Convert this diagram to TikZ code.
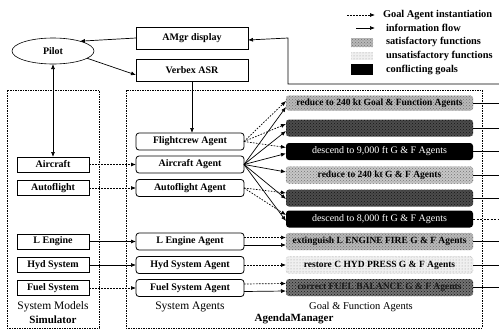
\documentclass[tikz,border=0pt]{standalone}
\usepackage{fontspec}
\setmainfont{Liberation Serif}
\usetikzlibrary{arrows.meta,patterns,shapes.geometric,calc}
\begin{document}
\begin{tikzpicture}[x=1pt,y=-1pt,
  every node/.style={inner sep=0pt, outer sep=0pt},
  boxfont/.style={font=\fontsize{10}{11}\selectfont\bfseries},
  flow/.style={-{Latex[length=5pt,width=4pt]}, line width=0.7pt},
  inst/.style={-{Latex[length=5pt,width=4pt]}, line width=0.7pt, dash pattern=on 1.6pt off 1.4pt},
  region/.style={line width=0.6pt, dash pattern=on 2pt off 1.2pt on 0.6pt off 1.2pt},
  plainbox/.style={draw, line width=0.8pt, boxfont},
  simbox/.style={plainbox, minimum width=72pt, minimum height=15pt},
  agentbox/.style={plainbox, rounded corners=3pt, minimum width=108pt, minimum height=17pt},
  goalbox/.style={rounded corners=3pt, minimum width=187pt, minimum height=17pt,
    font=\fontsize{9.5}{11}\selectfont\bfseries},
  satis/.style={goalbox, fill=black!28, draw=black!50, densely dotted,
    postaction={pattern=crosshatch dots, pattern color=black!55}},
  unsat/.style={goalbox, fill=black!6, draw=black!40, densely dotted,
    postaction={pattern=dots, pattern color=black!40}},
  darkg/.style={goalbox, fill=black!70,
    postaction={pattern=crosshatch dots, pattern color=black!92}},
  confl/.style={goalbox, fill=black, text=white, font=\fontsize{10}{11}\selectfont},
  legtext/.style={anchor=west, font=\fontsize{10.4}{12}\selectfont\bfseries},
  caption/.style={font=\fontsize{11.5}{13}\selectfont}
]
\fill[white] (0,0) rectangle (499,335);
\useasboundingbox (0,0) rectangle (499,335);

% ---- legend ----
\node[legtext] (lg1) at (383,15) {Goal Agent instantiation};
\node[legtext] (lg2) at (386,28) {information flow};
\node[legtext] (lg3) at (386,42) {satisfactory functions};
\node[legtext] (lg4) at (386,56) {unsatisfactory functions};
\node[legtext] (lg5) at (386,70) {conflicting goals};
\coordinate (la1) at (347,15);
\coordinate (la2) at (356,28);
\draw[inst] (la1) -- ([xshift=-8pt]lg1.west);
\draw[flow] (la2) -- ([xshift=-11pt]lg2.west);
\node[fill=black!28, minimum width=22pt, minimum height=9pt,
  postaction={pattern=crosshatch dots, pattern color=black!55}] (sw1) at (362,42.5) {};
\node[fill=black!6, minimum width=22pt, minimum height=8pt,
  postaction={pattern=dots, pattern color=black!40}] (sw2) at (362,56) {};
\node[fill=black, minimum width=22pt, minimum height=11pt] (sw3) at (362,69.5) {};

% ---- pilot and interface ----
\node[ellipse, draw, line width=0.6pt, minimum width=82pt, minimum height=26pt, boxfont] (pilot) at (53,51) {Pilot};
\node[plainbox, minimum width=112pt, minimum height=22pt] (amgr) at (192,38) {AMgr display};
\node[plainbox, minimum width=112pt, minimum height=22pt] (verbex) at (192,70) {Verbex ASR};

% ---- regions ----
\draw[region] (7,90) rectangle (99,328);
\draw[region] (126,90) rectangle (482,328);

% ---- system models ----
\node[simbox] (sac) at (53,164.5) {Aircraft};
\node[simbox] (saf) at (53,188) {Autoflight};
\node[simbox] (sle) at (53,241.5) {L Engine};
\node[simbox] (shy) at (53,265) {Hyd System};
\node[simbox] (sfu) at (53,288) {Fuel System};
\node[caption] (capsm) at (53,307) {System Models};
\node[caption, font=\fontsize{11}{13}\selectfont\bfseries] (capsim) at (53,320) {Simulator};

% ---- system agents ----
\node[agentbox] (fc) at (190,141.5) {Flightcrew Agent};
\node[agentbox] (ac) at (190,164.5) {Aircraft Agent};
\node[agentbox] (af) at (190,188) {Autoflight Agent};
\node[agentbox] (le) at (190,241.5) {L Engine Agent};
\node[agentbox] (hy) at (190,265) {Hyd System Agent};
\node[agentbox] (fu) at (190,288) {Fuel System Agent};
\node[caption] (capsa) at (190,307) {System Agents};

% ---- goal & function agents ----
\node[satis, minimum height=15pt] (g1) at (379.5,103) {reduce to 240 kt Goal \& Function Agents};
\node[darkg] (g2) at (379.5,128) {};
\node[confl] (g3) at (379.5,151.5) {descend to 9,000 ft G \& F Agents};
\node[satis, fill=black!22] (g4) at (379.5,175) {reduce to 240 kt G \& F Agents};
\node[darkg] (g5) at (379.5,198) {};
\node[confl] (g6) at (379.5,219) {descend to 8,000 ft G \& F Agents};
\node[satis] (g7) at (379.5,241.5) {extinguish L ENGINE FIRE G \& F Agents};
\node[unsat] (g8) at (379.5,265) {restore C HYD PRESS G \& F Agents};
\node[darkg, fill=black!55, text=black!90] (g9) at (379.5,287.5) {correct FUEL BALANCE G \& F Agents};
\node[caption, font=\fontsize{10.5}{12}\selectfont] (capgf) at (361,307) {Goal \& Function Agents};
\node[caption, font=\fontsize{11}{13}\selectfont\bfseries] (capam) at (294,319) {AgendaManager};

% ---- pilot interface connectors ----
\draw[flow] (amgr.west) -- (pilot.20);
\draw[flow] (pilot.-12) -- ($(verbex.west)+(0,5)$);
\draw[flow] (verbex.south) -- (verbex.south |- fc.north);
\draw[flow, {Latex[length=5pt,width=4pt]}-{Latex[length=5pt,width=4pt]}] (pilot.south) -- (sac.north);

% information bus back to the display
\coordinate (rb) at (499,84);
\coordinate (bus) at (288,84);
\draw[flow] (rb) -- (bus) -- (bus |- amgr.east) -- ($(amgr.east)+(0,2)$);

% ---- simulator to agents ----
\draw[inst] (sac.east) -- (ac.west);
\draw[inst] (saf.east) -- (af.west);
\draw[flow] (sle.east) -- (le.west);
\draw[flow] (shy.east) -- (hy.west);
\draw[inst] (sfu.east) -- (fu.west);

% ---- agents to goal agents ----
\draw[inst] (fc.east) -- ($(g1.west)+(0,-2)$);
\draw[inst] (fc.east) -- ($(g2.west)+(0,-4)$);
\draw[inst] (fc.east) -- ($(g3.west)+(0,-4)$);
\draw[flow] (ac.east) -- ($(g1.west)+(0,4)$);
\draw[flow] (ac.east) -- ($(g2.west)+(0,3)$);
\draw[flow] (ac.east) -- ($(g3.west)+(0,2)$);
\draw[flow] (ac.east) -- ($(g4.west)+(0,-3)$);
\draw[flow] (ac.east) -- ($(g5.west)+(0,1)$);
\draw[flow] (ac.east) -- ($(g6.west)+(0,2)$);
\draw[inst] (af.east) -- ($(g5.west)+(0,-5)$);
\draw[inst] (af.east) -- ($(g6.west)+(0,-4)$);
\draw[inst] ($(le.east)+(0,-4)$) -- ($(g7.west)+(0,-4)$);
\draw[flow] ($(le.east)+(0,3.5)$) -- ($(g7.west)+(0,3.5)$);
\draw[inst] (hy.east) -- (g8.west);
\draw[inst] ($(fu.east)+(0,-4)$) -- ($(g9.west)+(0,-4)$);
\draw[flow] ($(fu.east)+(0,3.5)$) -- ($(g9.west)+(0,3.5)$);

% ---- goal agents out to the bus ----
\foreach \g in {g1,g2,g3,g4,g5,g7,g8,g9}
  \draw[line width=0.7pt] (\g.east) -- (\g.east -| rb);
\draw[line width=0.7pt, dash pattern=on 2pt off 1.5pt] (g6.east) -- (g6.east -| rb);
\end{tikzpicture}
\end{document}
